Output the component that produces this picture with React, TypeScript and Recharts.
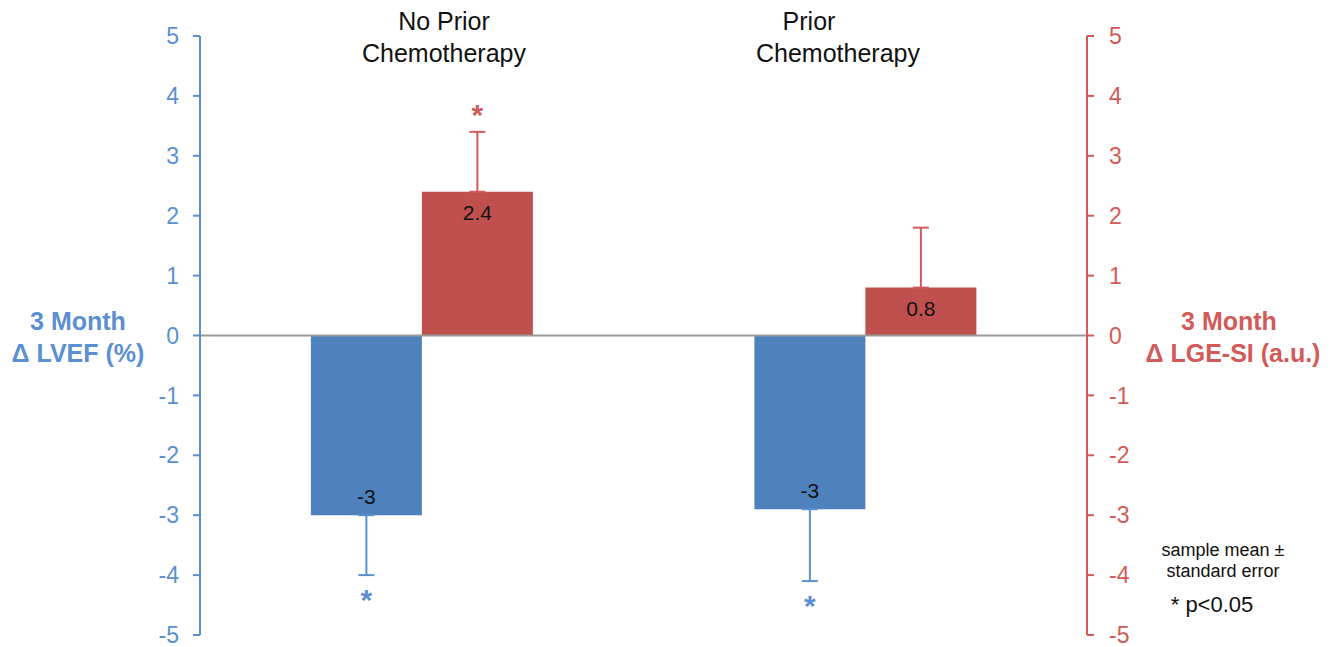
import React from 'react';
import {
  ComposedChart,
  Bar,
  XAxis,
  YAxis,
  ErrorBar,
  LabelList,
  ReferenceLine,
} from 'recharts';

const categories = ['No Prior Chemotherapy', 'Prior Chemotherapy'];
const lvefMeans = [-3.0, -2.9];
const lvefErrors = [1.0, 1.2];
const lvefLabels = ['-3', '-3'];
const lvefSignificant = [true, true];
const lgeMeans = [2.4, 0.8];
const lgeErrors = [1.0, 1.0];
const lgeLabels = ['2.4', '0.8'];
const lgeSignificant = [true, false];
const yTicks = [-5, -4, -3, -2, -1, 0, 1, 2, 3, 4, 5];

const BLUE = '#4F81BD';
const RED = '#C0504D';
const BLUE_TEXT = '#5B8FD2';
const RED_TEXT = '#D25A58';
const FONT = '"Liberation Sans", Arial, sans-serif';

// errors are [below, above] the mean
const chartData = categories.map((c, i) => ({
  name: c,
  lvef: lvefMeans[i],
  lvefErr: [lvefErrors[i], 0],
  lge: lgeMeans[i],
  lgeErr: [0, lgeErrors[i]],
}));

const valueLabel = (labels: string[]) => (props: any) => {
  const { x, y, width, height, value, index } = props;
  const top = Math.min(y, y + height);
  const bottom = Math.max(y, y + height);
  const cx = x + width / 2;
  const ty = value < 0 ? bottom - 19 : top + 21;
  return (
    <text x={cx} y={ty} textAnchor="middle" dominantBaseline="central" fontSize={21} fill="#111" fontFamily={FONT}>
      {labels[index]}
    </text>
  );
};

const starLabel = (errors: number[], flags: boolean[], color: string) => (props: any) => {
  const { x, y, width, height, value, index } = props;
  if (!flags[index]) return null;
  const px = Math.abs(height) / Math.abs(value);
  const cx = x + width / 2;
  const zero = value < 0 ? Math.min(y, y + height) : Math.max(y, y + height);
  const end = zero + (value < 0 ? 1 : -1) * (Math.abs(value) + errors[index]) * px;
  const sy = value < 0 ? end + 24 : end - 17;
  return (
    <text x={cx} y={sy} textAnchor="middle" dominantBaseline="central" fontSize={30} fontWeight="bold" fill={color} fontFamily={FONT}>
      *
    </text>
  );
};

const txt = (x: number, y: number, s: string, opts: any = {}) => (
  <text x={x} y={y} textAnchor="middle" dominantBaseline="central" fontFamily={FONT} fontSize={25} fill="#111" {...opts}>
    {s}
  </text>
);

export default function App() {
  return (
    <div style={{ position: 'absolute', left: 0, top: 0, width: 1337, height: 647, background: '#fff' }}>
      <ComposedChart
        width={1337}
        height={647}
        data={chartData}
        margin={{ top: 36, right: 210, bottom: 12, left: 160 }}
        barCategoryGap="25%"
        barGap={0}
      >
        <XAxis dataKey="name" hide />
        <YAxis
          yAxisId="left"
          domain={[-5, 5]}
          ticks={yTicks}
          interval={0}
          width={40}
          tickSize={7}
          tickMargin={14}
          axisLine={{ stroke: BLUE_TEXT, strokeWidth: 2 }}
          tickLine={{ stroke: BLUE_TEXT, strokeWidth: 2 }}
          tick={{ fill: BLUE_TEXT, fontSize: 23, fontFamily: FONT }}
        />
        <YAxis
          yAxisId="right"
          orientation="right"
          domain={[-5, 5]}
          ticks={yTicks}
          interval={0}
          width={40}
          tickSize={7}
          tickMargin={15}
          axisLine={{ stroke: RED_TEXT, strokeWidth: 2 }}
          tickLine={{ stroke: RED_TEXT, strokeWidth: 2 }}
          tick={{ fill: RED_TEXT, fontSize: 23, fontFamily: FONT }}
        />
        <ReferenceLine yAxisId="left" y={0} stroke="#9a9a9a" strokeWidth={2} />
        <Bar yAxisId="left" dataKey="lvef" fill={BLUE} isAnimationActive={false}>
          <ErrorBar dataKey="lvefErr" width={8} stroke={BLUE_TEXT} strokeWidth={2} direction="y" />
          <LabelList dataKey="lvef" content={valueLabel(lvefLabels)} />
          <LabelList dataKey="lvef" content={starLabel(lvefErrors, lvefSignificant, BLUE_TEXT)} />
        </Bar>
        <Bar yAxisId="right" dataKey="lge" fill={RED} isAnimationActive={false}>
          <ErrorBar dataKey="lgeErr" width={8} stroke={RED_TEXT} strokeWidth={2} direction="y" />
          <LabelList dataKey="lge" content={valueLabel(lgeLabels)} />
          <LabelList dataKey="lge" content={starLabel(lgeErrors, lgeSignificant, RED_TEXT)} />
        </Bar>
        {txt(444, 21, 'No Prior')}
        {txt(444, 53, 'Chemotherapy')}
        {txt(809, 21, 'Prior')}
        {txt(838, 53, 'Chemotherapy')}
        {txt(78, 321, '3 Month', { fill: BLUE_TEXT, fontWeight: 'bold' })}
        {txt(78, 353, 'Δ LVEF (%)', { fill: BLUE_TEXT, fontWeight: 'bold' })}
        {txt(1229, 321, '3 Month', { fill: RED_TEXT, fontWeight: 'bold' })}
        {txt(1233, 353, 'Δ LGE-SI (a.u.)', { fill: RED_TEXT, fontWeight: 'bold' })}
        {txt(1223, 550, 'sample mean ±', { fontSize: 18 })}
        {txt(1223, 571, 'standard error', { fontSize: 18 })}
        {txt(1212, 604, '* p<0.05', { fontSize: 22 })}
      </ComposedChart>
    </div>
  );
}
